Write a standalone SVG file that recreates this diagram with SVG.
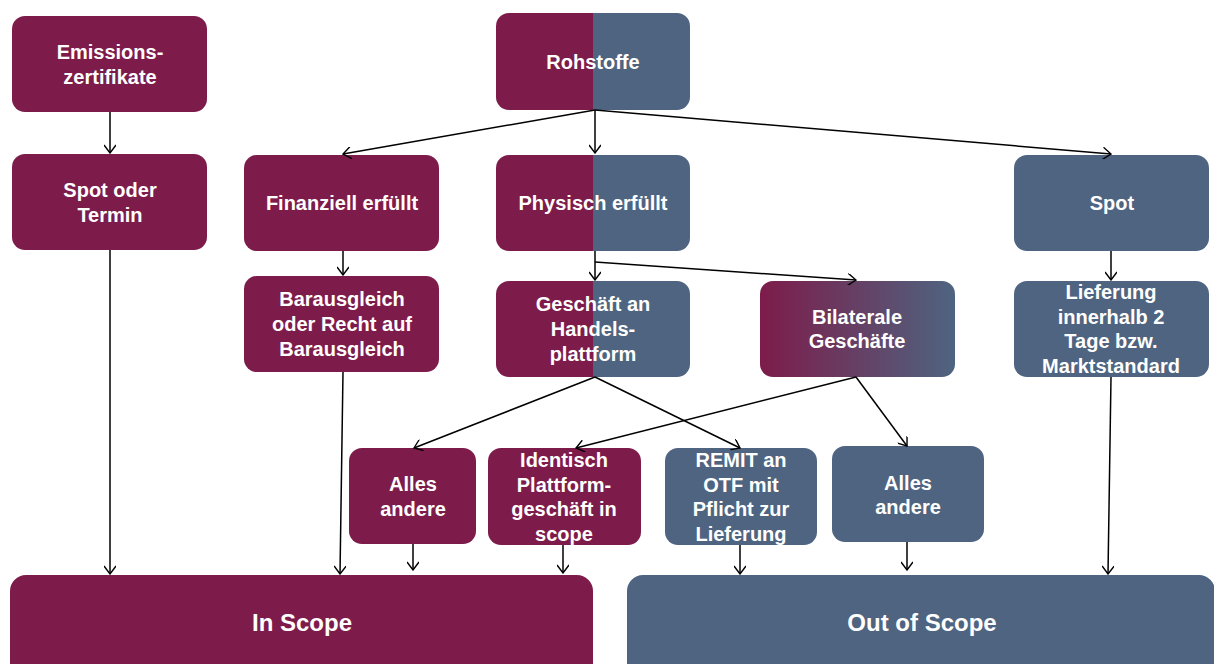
<svg xmlns="http://www.w3.org/2000/svg" width="1214" height="664" viewBox="0 0 1214 664">
<defs>
<linearGradient id="split" x1="0" x2="1" y1="0" y2="0">
<stop offset="0.5" stop-color="#7D1C4A"/><stop offset="0.5" stop-color="#4E6480"/>
</linearGradient>
<linearGradient id="grad" x1="0" x2="1" y1="0" y2="0">
<stop offset="0" stop-color="#7D1C4A"/><stop offset="1" stop-color="#4E6480"/>
</linearGradient>
<marker id="arr" viewBox="0 0 12 12" refX="11" refY="6" markerWidth="12" markerHeight="12" markerUnits="userSpaceOnUse" orient="auto">
<polyline points="3,0 11,6 3,12" fill="none" stroke="#000" stroke-width="1.4"/>
</marker>
</defs>
<style>
.m{fill:#7D1C4A}.b{fill:#4E6480}.s{fill:url(#split)}.g{fill:url(#grad)}
text{font-family:"Liberation Sans",Arial,sans-serif;font-weight:bold;font-size:20px;fill:#fff;text-anchor:middle}
.big{font-size:24px}
.c line{stroke:#000;stroke-width:1.5;marker-end:url(#arr)}
</style>
<rect width="1214" height="664" fill="#fff"/>
<g id="emissions"><rect class="m" x="12" y="16" width="195" height="96" rx="13"/><text x="110" y="59">Emissions-</text><text x="110" y="84">zertifikate</text></g>
<g id="rohstoffe"><rect class="s" x="496" y="13" width="194" height="97" rx="13"/><text x="593" y="69">Rohstoffe</text></g>
<g id="spotTermin"><rect class="m" x="12" y="154" width="195" height="96" rx="13"/><text x="110" y="197">Spot oder</text><text x="110" y="222">Termin</text></g>
<g id="finanziell"><rect class="m" x="244" y="155" width="195" height="96" rx="13"/><text x="342" y="210">Finanziell erfüllt</text></g>
<g id="physisch"><rect class="s" x="496" y="155" width="194" height="96" rx="13"/><text x="593" y="210">Physisch erfüllt</text></g>
<g id="spot"><rect class="b" x="1014" y="155" width="195" height="96" rx="13"/><text x="1112" y="210">Spot</text></g>
<g id="barausgleich"><rect class="m" x="244" y="276" width="195" height="96" rx="13"/><text x="342" y="306">Barausgleich</text><text x="342" y="331">oder Recht auf</text><text x="342" y="356">Barausgleich</text></g>
<g id="handelsplattform"><rect class="s" x="496" y="281" width="194" height="96" rx="13"/><text x="593" y="311">Geschäft an</text><text x="593" y="336">Handels-</text><text x="593" y="361">plattform</text></g>
<g id="bilaterale"><rect class="g" x="760" y="281" width="195" height="96" rx="13"/><text x="857" y="324">Bilaterale</text><text x="857" y="348">Geschäfte</text></g>
<g id="lieferung"><rect class="b" x="1014" y="281" width="195" height="96" rx="13"/><text x="1111" y="299">Lieferung</text><text x="1111" y="324">innerhalb 2</text><text x="1111" y="348">Tage bzw.</text><text x="1111" y="373">Marktstandard</text></g>
<g id="allesAndereIn"><rect class="m" x="349" y="448" width="127" height="96" rx="13"/><text x="413" y="491">Alles</text><text x="413" y="516">andere</text></g>
<g id="identisch"><rect class="m" x="488" y="448" width="153" height="97" rx="13"/><text x="564" y="467">Identisch</text><text x="564" y="492">Plattform-</text><text x="564" y="516">geschäft in</text><text x="564" y="541">scope</text></g>
<g id="remit"><rect class="b" x="665" y="448" width="152" height="97" rx="13"/><text x="741" y="467">REMIT an</text><text x="741" y="492">OTF mit</text><text x="741" y="516">Pflicht zur</text><text x="741" y="541">Lieferung</text></g>
<g id="allesAndereOut"><rect class="b" x="832" y="446" width="152" height="96" rx="13"/><text x="908" y="490">Alles</text><text x="908" y="514">andere</text></g>
<g id="inScope"><rect class="m" x="10" y="575" width="583" height="110" rx="16"/><text class="big" x="302" y="631">In Scope</text></g>
<g id="outScope"><rect class="b" x="627" y="575" width="588" height="110" rx="16"/><text class="big" x="922" y="631">Out of Scope</text></g>
<g id="connectors" class="c">
<line x1="110" y1="112" x2="110" y2="153"/>
<line x1="595" y1="110" x2="343" y2="154"/>
<line x1="595" y1="110" x2="595" y2="153"/>
<line x1="595" y1="110" x2="1111" y2="154"/>
<line x1="343" y1="251" x2="343" y2="275"/>
<line x1="595" y1="251" x2="595" y2="280"/>
<line x1="595" y1="262" x2="856" y2="280"/>
<line x1="1111" y1="251" x2="1111" y2="280"/>
<line x1="595" y1="377" x2="414" y2="448"/>
<line x1="595" y1="377" x2="740" y2="448"/>
<line x1="856" y1="377" x2="576" y2="448"/>
<line x1="856" y1="377" x2="907" y2="446"/>
<line x1="110" y1="250" x2="110" y2="574"/>
<line x1="343" y1="372" x2="340" y2="574"/>
<line x1="413" y1="544" x2="413" y2="570"/>
<line x1="563" y1="545" x2="563" y2="573"/>
<line x1="740" y1="545" x2="740" y2="574"/>
<line x1="907" y1="542" x2="907" y2="570"/>
<line x1="1111" y1="377" x2="1108" y2="574"/>
</g>
</svg>
